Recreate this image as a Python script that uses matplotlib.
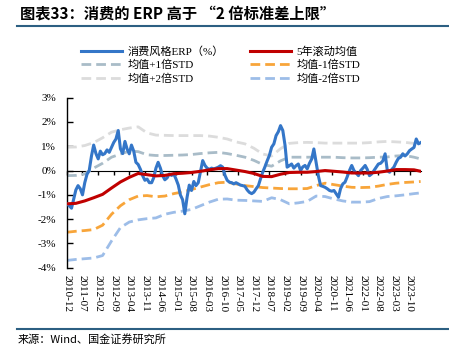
import matplotlib
matplotlib.use("Agg")
import matplotlib.pyplot as plt
import pandas as pd

# ---------------- data ----------------
start_month = "2010-12"
# monthly consumer-style ERP (%), 2010-12 .. 2024-03
erp = [-1.37, -1.45, -1.55, -1.2, -0.8, -0.62, -0.75, -1.0, -0.5, -0.15,
       0.0, 0.6, 1.05, 0.7, 0.48, 0.8, 0.65, 0.7, 0.85, 0.75,
       0.96, 1.16, 1.3, 1.65, 0.9, 0.7, 1.2, 0.9, 0.69, 1.05,
       0.8, 0.34, 0.25, 0.05, -0.21, -0.4, -0.35, -0.5, -0.5, -0.3,
       0.1, 0.34, 0.1, -0.21, -0.38, -0.3, -0.14, -0.2, -0.14, -0.35,
       -0.6, -1.0, -1.2, -1.78, -1.1, -0.6, -0.82, -0.45, -0.62, -0.5,
       -0.05, 0.41, 0.21, 0.1, 0.05, 0.1, 0.07, 0.1, 0.14, 0.2,
       0.14, -0.2, -0.4, -0.48, -0.5, -0.55, -0.5, -0.55, -0.6, -0.62,
       -0.65, -0.8, -0.9, -0.95, -0.89, -0.75, -0.62, -0.35, -0.07, 0.15,
       0.4, 0.62, 0.96, 1.1, 1.44, 1.6, 1.85, 1.65, 1.03, 0.14,
       0.2, 0.27, 0.1, 0.2, 0.27, 0.0, 0.15, 0.21, 0.07, 0.3,
       0.48, 0.89, 0.34, -0.21, -0.62, -0.65, -0.69, -0.75, -0.82, -0.85,
       -0.82, -0.96, -1.1, -0.75, -0.55, -0.48, -0.25, 0.0, 0.21, 0.0,
       -0.1, -0.21, 0.0, 0.1, 0.21, 0.05, -0.21, -0.14, 0.0, 0.14,
       0.27, 0.3, 0.4, 0.69, 0.0, -0.07, 0.05, 0.14, 0.34, 0.5,
       0.55, 0.69, 0.6, 0.69, 0.82, 0.89, 0.95, 1.3, 1.1, 1.15]

# band lines sampled every 4 months (last point 2024-03)
band_dates = ["2010-12", "2011-04", "2011-08", "2011-12", "2012-04", "2012-08",
              "2012-12", "2013-04", "2013-08", "2013-12", "2014-04", "2014-08",
              "2014-12", "2015-04", "2015-08", "2015-12", "2016-04", "2016-08",
              "2016-12", "2017-04", "2017-08", "2017-12", "2018-04", "2018-08",
              "2018-12", "2019-04", "2019-08", "2019-12", "2020-04", "2020-08",
              "2020-12", "2021-04", "2021-08", "2021-12", "2022-04", "2022-08",
              "2022-12", "2023-04", "2023-08", "2023-12", "2024-03"]
mean5y = [-1.37, -1.35, -1.25, -1.12, -0.98, -0.72, -0.47, -0.28, -0.12, -0.17,
          -0.22, -0.2, -0.13, -0.11, -0.08, -0.03, 0.03, 0.08, 0.08, 0.02,
          -0.04, -0.12, -0.24, -0.25, -0.15, -0.08, -0.07, -0.07, -0.04, 0.0,
          -0.03, -0.06, -0.1, -0.1, -0.1, -0.07, -0.02, 0.04, 0.04, 0.03, -0.03]
plus1 = [-0.21, -0.2, -0.14, 0.1, 0.3, 0.55, 0.68, 0.8, 0.78, 0.65,
         0.62, 0.62, 0.63, 0.64, 0.66, 0.7, 0.73, 0.75, 0.7, 0.63,
         0.55, 0.42, 0.25, 0.18, 0.4, 0.55, 0.55, 0.55, 0.55, 0.55,
         0.55, 0.53, 0.52, 0.52, 0.53, 0.55, 0.56, 0.6, 0.62, 0.55, 0.48]
plus2 = [0.96, 0.97, 1.03, 1.15, 1.35, 1.58, 1.68, 1.75, 1.8, 1.55,
         1.46, 1.45, 1.44, 1.44, 1.44, 1.44, 1.42, 1.37, 1.3, 1.18,
         1.1, 0.92, 0.68, 0.6, 0.9, 1.12, 1.15, 1.16, 1.15, 1.13,
         1.13, 1.13, 1.13, 1.13, 1.15, 1.18, 1.2, 1.18, 1.16, 1.12, 1.03]
minus1 = [-2.54, -2.5, -2.47, -2.43, -2.25, -1.8, -1.45, -1.2, -1.05, -1.03,
          -1.08, -1.05, -0.95, -0.88, -0.78, -0.68, -0.58, -0.5, -0.48, -0.55,
          -0.62, -0.66, -0.7, -0.72, -0.74, -0.75, -0.75, -0.74, -0.62, -0.52,
          -0.58, -0.64, -0.69, -0.7, -0.69, -0.64, -0.57, -0.52, -0.49, -0.47, -0.45]
minus2 = [-3.7, -3.66, -3.63, -3.6, -3.5, -2.9, -2.35, -2.12, -2.03, -1.98,
          -1.95, -1.8, -1.72, -1.67, -1.6, -1.45, -1.3, -1.18, -1.17, -1.22,
          -1.23, -1.25, -1.27, -1.12, -1.2, -1.37, -1.33, -1.27, -1.05, -1.07,
          -1.17, -1.25, -1.3, -1.3, -1.28, -1.15, -1.07, -1.04, -1.0, -0.95, -0.92]

yticks = [3, 2, 1, 0, -1, -2, -3, -4]
labels = ["消费风格ERP（%）", "5年滚动均值", "均值+1倍STD", "均值-1倍STD",
          "均值+2倍STD", "均值-2倍STD"]
title = "图表33：消费的 ERP 高于 “2 倍标准差上限”"
source = "来源：Wind、国金证券研究所"

# ---------------- plot ----------------
plt.rcParams['font.family'] = ['Liberation Serif', 'Noto Sans CJK SC']
W, H = 449, 358
fig = plt.figure(figsize=(W / 100, H / 100), dpi=100)

ax_l, ax_r, ax_t, ax_b = 67, 421, 97.7, 267.7
ax = fig.add_axes([ax_l / W, 1 - ax_b / H, (ax_r - ax_l) / W, (ax_b - ax_t) / H])

erp_x = pd.date_range(start=start_month + "-01", periods=len(erp), freq="MS")
band_x = pd.to_datetime([d + "-01" for d in band_dates])

c_blue = "#3476c8"
c_red = "#c00000"
c_p1 = "#a9bcc8"
c_p2 = "#dcdcdc"
c_m1 = "#f8a53a"
c_m2 = "#9dbde8"
dash = (0, (3.5, 1.8))

h_p2, = ax.plot(band_x, plus2, color=c_p2, lw=2, ls=dash, zorder=2)
h_p1, = ax.plot(band_x, plus1, color=c_p1, lw=2, ls=dash, zorder=2)
h_m1, = ax.plot(band_x, minus1, color=c_m1, lw=2, ls=dash, zorder=2)
h_m2, = ax.plot(band_x, minus2, color=c_m2, lw=2, ls=dash, zorder=2)
h_erp, = ax.plot(erp_x, erp, color=c_blue, lw=2.2, zorder=4)
h_mean, = ax.plot(band_x, mean5y, color=c_red, lw=2.2, zorder=5)

ax.set_ylim(-4, 3)
ax.set_xlim(erp_x[0], erp_x[-1] + pd.Timedelta(days=5))
ax.set_yticks(yticks)
ax.set_yticklabels([f"{v}%" for v in yticks], fontsize=8)

tick_dates = pd.date_range(start=start_month + "-01", end="2023-10-01", freq="7MS")
ax.set_xticks(tick_dates)
ax.set_xticklabels([d.strftime("%Y-%m") for d in tick_dates], rotation=-90,
                   fontsize=8, va="top", ha="center")
ax.tick_params(axis="x", length=0, pad=5)
ax.tick_params(axis="y", direction="in", length=4, width=1, pad=8, colors="black")

for s in ["top", "right", "bottom"]:
    ax.spines[s].set_visible(False)
ax.spines["left"].set_linewidth(1)

# zero line with ticks
sec = ax.secondary_xaxis(4 / 7)
sec.set_xticks(tick_dates)
sec.set_xticklabels([])
sec.tick_params(direction="in", length=3, width=1, color="#000000")
sec.spines["bottom"].set_color("#595959")
sec.spines["bottom"].set_linewidth(1.3)

handles = [h_erp, h_p1, h_p2, h_mean, h_m1, h_m2]
hl = [labels[0], labels[2], labels[4], labels[1], labels[3], labels[5]]
fig.legend(handles, hl, loc="upper left", bbox_to_anchor=(81 / W, 1 - 46 / H),
           ncol=2, frameon=False, fontsize=8, handlelength=3.7, handletextpad=0.45,
           columnspacing=2.4, borderpad=0, borderaxespad=0, labelspacing=0.3)

fig.text(20 / W, 1 - 14 / H, title, fontsize=11, fontweight="bold",
         family=["Noto Sans CJK SC", "DejaVu Sans"], va="center", ha="left")
fig.add_artist(plt.Line2D([17 / W, 1], [1 - 25.5 / H] * 2, color="#2c5f82", lw=1.5))
fig.add_artist(plt.Line2D([17 / W, 1], [1 - 329 / H] * 2, color="#2c5f82", lw=1.5))
fig.text(18 / W, 1 - 339 / H, source, fontsize=8,
         family=["Noto Sans CJK SC", "DejaVu Sans"], va="center", ha="left")

fig.savefig("out.png", dpi=100)
